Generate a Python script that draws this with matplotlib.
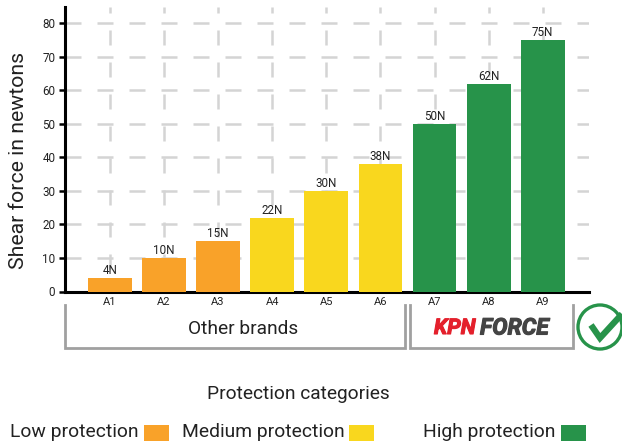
import matplotlib
matplotlib.use('Agg')
import matplotlib.pyplot as plt
import matplotlib.patheffects as pe
from matplotlib.patches import Circle, Rectangle

plt.rcParams['font.family'] = ['Roboto', 'DejaVu Sans']

# values
categories = ['A1', 'A2', 'A3', 'A4', 'A5', 'A6', 'A7', 'A8', 'A9']
shear_force = [4, 10, 15, 22, 30, 38, 50, 62, 75]
levels = ['low', 'low', 'low', 'medium', 'medium', 'medium', 'high', 'high', 'high']
yticks = [0, 10, 20, 30, 40, 50, 60, 70, 80]

colors = {'low': '#F9A229', 'medium': '#F9D71E', 'high': '#27934A'}
W, H = 622, 444

fig = plt.figure(figsize=(W / 100, H / 100), dpi=100)
ax = fig.add_axes([65 / W, 1 - 291.5 / H, (589 - 65) / W, (291.5 - 6.5) / H])

x = list(range(len(categories)))
ax.bar(x, shear_force, width=0.81, color=[colors[l] for l in levels], zorder=3)
for xi, v in zip(x, shear_force):
    ax.text(xi, v + 0.3, f'{v}N', ha='center', va='bottom', fontsize=8.4, color='#222222', zorder=4)

ax.set_xlim(-0.83, 8.855)
ax.set_ylim(0, 85)
ax.set_xticks(x)
ax.set_xticklabels(categories)
ax.set_yticks(yticks)
ax.tick_params(axis='x', length=0, pad=4, labelsize=8, labelcolor='#222222')
ax.tick_params(axis='y', length=4.5, width=1.8, pad=2.5, labelsize=8.4, labelcolor='#222222',
               direction='out')
ax.grid(True, axis='y', color='#D4D4D4', linewidth=1.8, linestyle=(0, (6.4, 6.4)), zorder=0)
ax.grid(True, axis='x', color='#D4D4D4', linewidth=1.8, linestyle=(3.6, (6, 6.8)), zorder=0)
ax.set_axisbelow(True)
for side in ['top', 'right']:
    ax.spines[side].set_visible(False)
for side in ['left', 'bottom']:
    ax.spines[side].set_linewidth(2.2)
ax.patch.set_alpha(0)

# overlay in pixel coordinates for brackets, logo and legend
ov = fig.add_axes([0, 0, 1, 1], zorder=5)
ov.set_xlim(0, W)
ov.set_ylim(H, 0)
ov.axis('off')

bracket = dict(color='#A0A0A0', linewidth=2, solid_joinstyle='miter')
ov.plot([65, 65, 405, 405], [305, 348, 348, 305], **bracket)
ov.plot([410, 410, 573, 573], [305, 348, 348, 305], **bracket)

ov.text(243, 329, 'Other brands', ha='center', va='center', fontsize=13.8, color='#222222')
heavy = [pe.withStroke(linewidth=0.8, foreground='#E4202C')]
ov.text(434, 328, 'KPN', ha='left', va='center', fontsize=15.5, fontweight='bold',
        fontstyle='italic', color='#E4202C', path_effects=heavy)
heavy = [pe.withStroke(linewidth=0.8, foreground='#444444')]
ov.text(480, 328, 'FORCE', ha='left', va='center', fontsize=16.5, fontweight='bold',
        fontstyle='italic', color='#444444', path_effects=heavy)

ov.text(298, 394, 'Protection categories', ha='center', va='center', fontsize=13.8, color='#222222')
ov.text(10, 432, 'Low protection', ha='left', va='center', fontsize=13.9, color='#222222')
ov.text(182, 432, 'Medium protection', ha='left', va='center', fontsize=13.9, color='#222222')
ov.text(423, 432, 'High protection', ha='left', va='center', fontsize=13.9, color='#222222')
ov.add_patch(Rectangle((144, 425), 25, 16, color=colors['low'], linewidth=0))
ov.add_patch(Rectangle((349, 425), 25, 16, color=colors['medium'], linewidth=0))
ov.add_patch(Rectangle((561, 425), 25, 16, color=colors['high'], linewidth=0))

ov.text(19, 160, 'Shear force in newtons', rotation=90, ha='center', va='center',
        fontsize=15.3, color='#222222')

# green tick in a circle
ov.add_patch(Circle((600, 327), 22, fill=False, edgecolor=colors['high'], linewidth=2.4))
ov.plot([591, 600, 622], [325, 338, 314], color=colors['high'], linewidth=4.5,
        solid_joinstyle='miter', solid_capstyle='butt')

fig.savefig('out.png', dpi=100)
